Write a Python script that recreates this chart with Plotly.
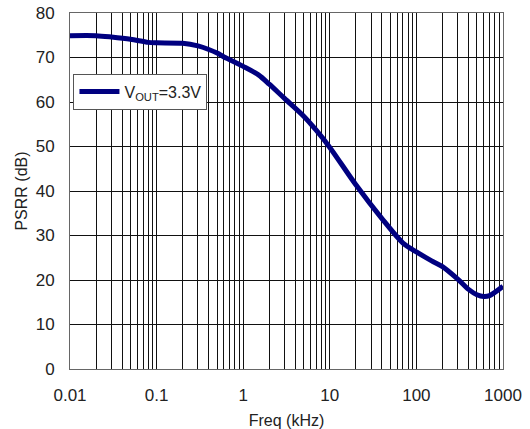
import plotly.graph_objects as go

freq_khz = [0.01, 0.02, 0.03, 0.05, 0.08, 0.1, 0.2, 0.3, 0.4, 0.5, 0.6, 0.7, 1.0, 1.5, 2, 3, 5, 7,
            10, 20, 40, 70, 100, 150, 200, 300, 400, 500, 600, 700, 1000]
psrr_db = [74.9, 74.9, 74.6, 74.1, 73.4, 73.3, 73.2, 72.6, 71.8, 71.0, 70.1, 69.5, 68.0, 66.1, 64.0, 60.8, 56.8, 53.6,
           49.8, 41.4, 33.8, 28.3, 26.3, 24.3, 23.0, 20.2, 17.9, 16.7, 16.3, 16.5, 18.6]
series_name = "V<sub>OUT</sub>=3.3V"
x_ticks = [0.01, 0.1, 1, 10, 100, 1000]
x_tick_text = ["0.01", "0.1", "1", "10", "100", "1000"]
y_ticks = [0, 10, 20, 30, 40, 50, 60, 70, 80]

FONT = "Arial, Liberation Sans, sans-serif"

fig = go.Figure()
fig.add_trace(go.Scatter(
    x=freq_khz, y=psrr_db, mode="lines", name=series_name,
    line=dict(color="#000080", width=5, shape="spline", smoothing=0.8),
))

fig.update_layout(
    width=530, height=429,
    margin=dict(l=70, r=27, t=13, b=60),
    paper_bgcolor="white", plot_bgcolor="white",
    font=dict(family=FONT, size=17, color="#222"),
    showlegend=True,
    legend=dict(x=0.008, y=0.83, xanchor="left", yanchor="top",
                bgcolor="white", bordercolor="#555", borderwidth=1,
                font=dict(size=16, color="#222"),
                itemwidth=40, tracegroupgap=0),
)
fig.update_xaxes(
    type="log", range=[-2, 3], automargin=False,
    tickvals=x_ticks, ticktext=x_tick_text,
    showgrid=True, gridcolor="#111", gridwidth=1,
    minor=dict(dtick="D1", showgrid=True, gridcolor="#111", gridwidth=1, ticks=""),
    showline=True, linecolor="#666", linewidth=1, mirror=True,
    ticks="", zeroline=False, ticklabelstandoff=11,
    title=dict(text="Freq (kHz)", font=dict(size=16), standoff=11),
    tickfont=dict(size=17),
)
fig.update_yaxes(
    range=[0, 80], tickvals=y_ticks, automargin=False,
    showgrid=True, gridcolor="#111", gridwidth=1,
    showline=True, linecolor="#666", linewidth=1, mirror=True,
    ticks="", zeroline=False, ticklabelstandoff=11,
    title=dict(text="PSRR (dB)", font=dict(size=16), standoff=4),
    tickfont=dict(size=17),
)

fig.write_html("out.html")
